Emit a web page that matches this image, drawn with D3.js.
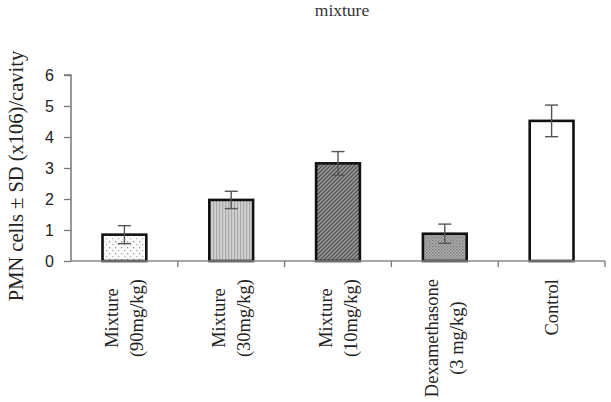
<!DOCTYPE html>
<html><head><meta charset="utf-8">
<script src="https://cdn.jsdelivr.net/npm/d3@7"></script>
<style>body{margin:0;background:#fff}svg{display:block}</style>
</head><body>
<svg id="c" width="611" height="402"></svg>
<script>
const categories = [["Mixture","(90mg/kg)"],["Mixture","(30mg/kg)"],["Mixture","(10mg/kg)"],["Dexamethasone","(3 mg/kg)"],["Control"]];
const values = [0.85, 1.97, 3.15, 0.88, 4.52];
const sds = [0.29, 0.28, 0.38, 0.31, 0.51];
const yTicks = [0,1,2,3,4,5,6];
const title = "mixture";
const yLabel = "PMN cells \u00b1 SD (x106)/cavity";
const patterns = ["dots","vstripes","diag","checker","none"];

const svg = d3.select("#c");
const L = 71, R = 605, T = 75, B = 261;
const x = d3.scaleBand().domain(d3.range(categories.length)).range([L,R]).paddingInner(0.59).paddingOuter(0.295);
const y = d3.scaleLinear().domain([0,6]).range([B,T]);

const defs = svg.append("defs");
let p = defs.append("pattern").attr("id","dots").attr("patternUnits","userSpaceOnUse").attr("width",6).attr("height",6);
p.append("rect").attr("width",6).attr("height",6).attr("fill","#fafafa");
p.append("rect").attr("x",1).attr("y",1).attr("width",1.3).attr("height",1.3).attr("fill","#9a9a9a");
p.append("rect").attr("x",4).attr("y",4).attr("width",1.3).attr("height",1.3).attr("fill","#b5b5b5");
p = defs.append("pattern").attr("id","vstripes").attr("patternUnits","userSpaceOnUse").attr("width",3).attr("height",4);
p.append("rect").attr("width",3).attr("height",4).attr("fill","#d2d2d2");
p.append("rect").attr("width",1.2).attr("height",4).attr("fill","#a8a8a8");
p = defs.append("pattern").attr("id","diag").attr("patternUnits","userSpaceOnUse").attr("width",4).attr("height",4);
p.append("rect").attr("width",4).attr("height",4).attr("fill","#9a9a9a");
p.append("path").attr("d","M-1,5 L5,-1 M-1,1 L1,-1 M3,5 L5,3").attr("stroke","#555").attr("stroke-width",1.3);
p = defs.append("pattern").attr("id","checker").attr("patternUnits","userSpaceOnUse").attr("width",3).attr("height",3);
p.append("rect").attr("width",3).attr("height",3).attr("fill","#b4b4b4");
p.append("rect").attr("width",1.5).attr("height",1.5).attr("fill","#7a7a7a");
p.append("rect").attr("x",1.5).attr("y",1.5).attr("width",1.5).attr("height",1.5).attr("fill","#8a8a8a");

svg.append("text").attr("x",342).attr("y",16).attr("text-anchor","middle")
  .attr("font-family","Liberation Serif").attr("font-size",17.5).attr("fill","#333").text(title);

svg.append("text").attr("transform","translate(23,176) rotate(-90)").attr("text-anchor","middle")
  .attr("font-family","Liberation Serif").attr("font-size",20.5).attr("fill","#222").text(yLabel);

const g = svg.append("g");
g.selectAll("rect.bar").data(values).join("rect").attr("class","bar")
  .attr("x",(d,i)=>x(i)).attr("width",x.bandwidth())
  .attr("y",d=>y(d)).attr("height",d=>y(0)-y(d))
  .attr("fill",(d,i)=>patterns[i]==="none"?"#fff":`url(#${patterns[i]})`)
  .attr("stroke","#111").attr("stroke-width",2.6);

const yAxis = d3.axisLeft(y).tickValues(yTicks).tickSize(7).tickPadding(10).tickFormat(d3.format("d"));
const ya = svg.append("g").attr("transform",`translate(${L},0)`).call(yAxis);
ya.select(".domain").attr("stroke","#777").attr("stroke-width",1.5).attr("d",`M-7,${T}H0V${B}`);
ya.selectAll(".tick line").attr("stroke","#777").attr("stroke-width",1.3);
ya.selectAll(".tick text").attr("font-family","Liberation Sans").attr("font-size",16).attr("fill","#222");

const xa = svg.append("g");
xa.append("line").attr("x1",L).attr("x2",R).attr("y1",B).attr("y2",B).attr("stroke","#888").attr("stroke-width",1.6);
const bounds = d3.range(categories.length).map(i=>x(i)+x.bandwidth()+x.step()*x.paddingInner()/2);
xa.selectAll("line.t").data(bounds).join("line").attr("class","t")
  .attr("x1",d=>d).attr("x2",d=>d).attr("y1",B).attr("y2",B+6).attr("stroke","#777").attr("stroke-width",1.3);

const eg = svg.append("g").attr("stroke","#555").attr("stroke-width",1.4);
values.forEach((v,i)=>{
  const cx = x(i)+x.bandwidth()/2;
  eg.append("line").attr("x1",cx).attr("x2",cx).attr("y1",y(v+sds[i])).attr("y2",y(v-sds[i]));
  eg.append("line").attr("x1",cx-6.5).attr("x2",cx+6.5).attr("y1",y(v+sds[i])).attr("y2",y(v+sds[i]));
  eg.append("line").attr("x1",cx-6.5).attr("x2",cx+6.5).attr("y1",y(v-sds[i])).attr("y2",y(v-sds[i]));
});

const lineGap = 25, topY = 279;
categories.forEach((lines,i)=>{
  const cx = x(i)+x.bandwidth()/2;
  const n = lines.length;
  const texts = lines.map((s,k)=>svg.append("text")
    .attr("font-family","Liberation Serif").attr("font-size",18.5).attr("fill","#222")
    .attr("text-anchor","middle").text(s));
  const maxLen = d3.max(texts, t=>t.node().getComputedTextLength());
  texts.forEach((t,k)=>{
    const off = (k-(n-1)/2)*lineGap;
    t.attr("transform",`translate(${cx+off+6},${topY+maxLen/2}) rotate(-90)`);
  });
});
</script>
</body></html>
